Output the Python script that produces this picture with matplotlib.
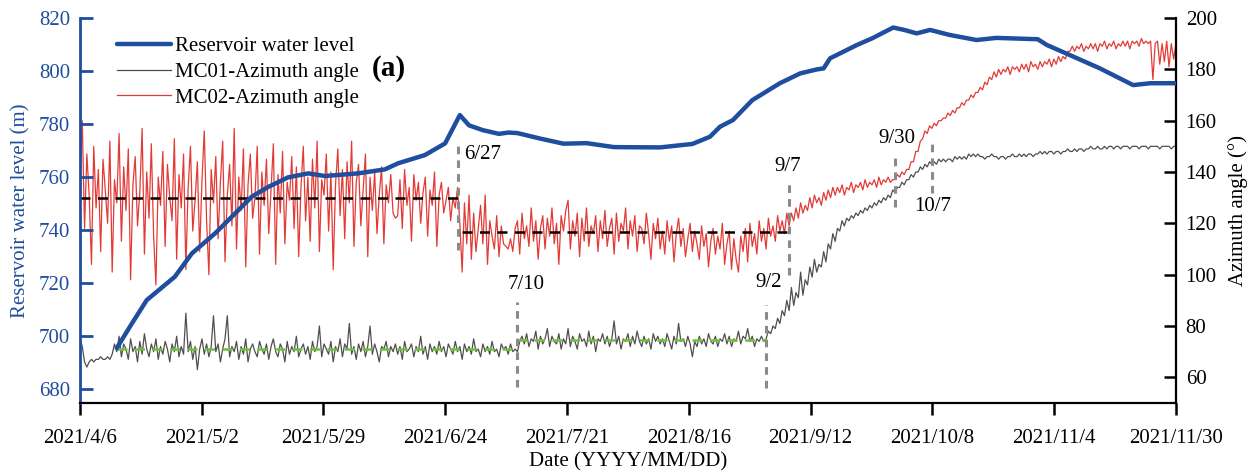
import matplotlib
matplotlib.use("Agg")
import matplotlib.pyplot as plt
import matplotlib.dates as mdates
import numpy as np
from datetime import datetime

plt.rcParams['font.family'] = ['Liberation Serif', 'DejaVu Serif']

# ---------------- data ----------------
start_date = "2021-04-06"
end_date = "2021-11-30"

# Reservoir water level keypoints (day offset from 2021/4/6, level in m)
level_days = [8, 11, 14.5, 20.6, 24.3, 29.3, 33.7, 37.3, 40.9, 45.2, 49.6, 53.2, 60.4,
              66.2, 69.1, 74.9, 79.3, 82.5, 84.5, 87.5, 91, 93, 95, 100, 105, 110, 116,
              126, 133, 136.8, 139, 141.8, 146, 152, 156.4, 160, 161.5, 162.9, 168.7,
              172, 176.6, 179, 181.7, 184.6, 188.9, 194.7, 199, 208, 210, 215, 221.5,
              228.7, 232.4, 238]
level_vals = [695.5, 704, 713.6, 722.4, 731.2, 738.7, 746.3, 752.6, 756.3, 759.9, 761.4,
              760.4, 761.4, 762.9, 765.2, 768.3, 772.7, 783.4, 779.5, 777.7, 776.3, 776.8,
              776.6, 774.5, 772.6, 772.8, 771.3, 771.2, 772.5, 775.2, 779, 781.5, 789,
              795.4, 799.1, 800.6, 801, 804.8, 809.8, 812.3, 816.4, 815.5, 814.2, 815.5,
              813.6, 811.7, 812.5, 812, 809.8, 806, 801, 794.7, 795.4, 795.4]

# sampling step of the azimuth records (days)
step_days = 0.5

# MC01 azimuth angle, every half day from 2021/4/6 (deg)
mc01 = [75, 72, 66, 64, 66, 67, 66, 67, 67, 68, 67, 67, 68, 67, 69, 73,
        70, 76, 68, 73, 71, 67, 75, 70, 72, 66, 74, 69, 77, 71, 68, 73, 70, 75, 67, 72,
        69, 74, 71, 66, 73, 70, 76, 68, 72, 69, 85, 70, 74, 67, 72, 63, 71, 75, 69, 73,
        68, 72, 84, 70, 73, 66, 71, 75, 84, 68, 72, 70, 74, 67, 72, 69, 75, 66, 71, 73,
        70, 68, 74, 71, 69, 73, 67, 72, 75, 70, 68, 73, 71, 66, 74, 69, 72, 70, 76, 68,
        71, 73, 69, 72, 67, 74, 70, 72, 80, 68, 73, 71, 69, 74, 66, 72, 70, 75, 68, 73,
        71, 81, 69, 72, 67, 73, 70, 74, 68, 72, 80, 69, 73, 70, 66, 72, 71, 74, 68, 72,
        70, 73, 69, 72, 67, 74, 70, 71, 73, 68, 72, 70, 76, 69, 72, 67, 73, 70, 72, 69,
        74, 70, 72, 68, 73, 71, 69, 74, 70, 72, 67, 73, 70, 72, 69, 75, 70, 71, 68, 73,
        70, 72, 69, 74, 70, 71, 68, 73, 71, 72, 69, 73, 70, 71,
        70, 74, 76, 73, 77, 72, 75, 74, 78, 71, 76, 73, 75, 79, 72, 76, 74, 73, 77, 71,
        75, 73, 79, 72, 76, 74, 71, 77, 74, 75, 72, 78, 73, 76, 70, 75, 74, 77, 73, 76,
        72, 75, 82, 73, 76, 71, 75, 74, 77, 72, 76, 73, 78, 74, 72, 76, 73, 75, 71, 77,
        74, 76, 73, 75, 72, 77, 74, 71, 76, 73, 81, 74, 75, 72, 76, 73, 68, 74, 72, 76,
        73, 75, 72, 77, 74, 73, 76, 72, 75, 74, 77, 73, 76, 72, 75, 74, 78, 73, 76, 75,
        79, 74, 76, 72, 75, 74, 76, 74,
        75, 78, 77, 80, 79, 83, 81, 86, 84, 90, 86, 95, 88, 93, 91, 101, 92, 98, 96, 103,
        99, 106, 101, 104, 103, 109, 105, 112, 110, 116, 113, 118, 117, 121, 119, 122, 121, 123, 122, 124,
        123, 125, 124, 126, 125, 127, 126, 128, 127, 129, 128, 130, 129, 131, 130, 133, 132, 134, 134, 136,
        135, 137, 137, 139, 138, 140, 140, 142, 141, 143, 142, 144, 143, 144, 143, 145, 144, 145, 144, 145,
        145, 144, 146, 145, 146, 145, 146, 145, 147, 146, 147, 146, 147, 146, 146, 145, 146, 146, 147, 146,
        146, 145, 146, 146, 145, 146, 146, 147, 146, 146, 147, 146, 147, 146, 147, 147, 146, 147, 147, 148,
        147, 148, 147, 148, 148, 147, 148, 148, 147, 148, 148, 149, 148, 148, 149, 148, 149, 149, 148, 149,
        149, 150, 149, 149, 150, 149, 149, 150, 149, 150, 150, 149, 150, 150, 149, 150, 150, 150, 149, 150,
        150, 150, 149, 150, 150, 150, 149, 150, 150, 150, 150, 149, 150, 150, 150, 150, 149, 150, 150]

# MC02 azimuth angle, every half day from 2021/4/6 (deg)
mc02 = [138, 160, 118, 147, 131, 104, 150, 126, 141, 109, 145, 133, 120, 152, 101, 137, 128, 155, 113, 142,
        125, 149, 98, 135, 146, 119, 132, 157, 108, 140, 122, 151, 115, 96, 138, 127, 148, 111, 143, 130,
        121, 153, 106, 139, 126, 147, 102, 134, 150, 117, 129, 144, 109, 137, 156, 121, 100, 141, 128, 146,
        114, 136, 152, 105, 131, 143, 119, 157, 110, 138, 125, 149, 103, 135, 147, 122, 130, 150, 108, 140,
        127, 145, 116, 133, 151, 104, 139, 124, 148, 112, 136, 129, 146, 118, 142, 107, 134, 150, 121, 138,
        113, 145, 126, 152, 109, 137, 131, 147, 117, 140, 102, 135, 149, 123, 141, 114, 144, 128, 152, 111,
        136, 143, 119, 133, 147, 107, 138, 125, 140, 116, 131, 142, 112, 135, 128, 139, 124, 122, 123, 137,
        118, 141, 127, 134, 113, 139, 129, 136, 120, 132, 138, 115, 133, 127, 140, 111, 131, 136, 124, 129,
        134, 121, 130, 126,
        134, 120, 101, 128, 112, 131, 106, 124, 109, 118, 127, 112, 131, 104, 121, 115, 110, 123, 107, 119,
        112, 111, 110, 114, 109, 118, 121, 108, 124, 114, 119, 111, 126, 113, 121, 106, 118, 123, 110, 122,
        115, 126, 112, 120, 104, 123, 117, 125, 129, 110, 121, 115, 124, 107, 122, 113, 126, 111, 119, 116,
        123, 109, 121, 114, 125, 111, 118, 122, 108, 124, 113, 120, 117, 126, 110, 121, 115, 123, 109, 119,
        118, 112, 124, 116, 106, 120, 114, 122, 110, 117, 108, 121, 113, 119, 105, 116, 122, 111, 118, 107,
        114, 120, 109, 117, 112, 106, 119, 111, 116, 103, 113, 118, 108, 115, 110, 120, 104, 112, 117, 102,
        114, 106, 101, 115, 109, 118, 105, 120, 111, 116, 108, 121, 113, 118, 110, 122, 115, 119, 113, 123,
        117, 121, 116, 124,
        119, 124, 121, 126, 122, 128, 124, 127, 125, 130, 126, 131, 128, 130, 127, 132, 129, 133, 130, 134,
        131, 134, 132, 135, 131, 134, 133, 136, 132, 135, 134, 136, 133, 137, 134, 136, 135, 137, 134, 138,
        135, 137, 136, 138, 136, 137, 137, 139, 138, 140, 139, 141, 141, 144, 144, 148, 148, 152, 153, 156,
        155, 158, 157, 159, 158, 160, 160, 161, 161, 163, 162, 164, 163, 165, 165, 167, 166, 168, 168, 170,
        169, 171, 171, 173, 172, 175, 174, 177, 176, 179, 177, 180, 178, 180, 179, 181, 178, 181, 180, 181,
        179, 182, 180, 182, 179, 183, 181, 182, 180, 183, 181, 183, 182, 184, 181, 184, 182, 185, 183, 185,
        184, 187, 187, 189, 187, 189, 188, 190, 187, 189, 188, 190, 188, 190, 187, 190, 189, 191, 188, 190,
        189, 191, 188, 190, 189, 191, 189, 191, 188, 191, 190, 191, 189, 192, 190, 191, 190, 191, 176, 190,
        191, 182, 190, 183, 191, 181, 190, 184, 190]

# mean levels (start day, end day, value)
mc02_means = [(0, 82, 130.0), (83, 154, 116.5)]
mc01_means = [(8, 95, 71.0), (95, 149, 74.5)]

tick_labels = ['2021/4/6', '2021/5/2', '2021/5/29', '2021/6/24', '2021/7/21',
               '2021/8/16', '2021/9/12', '2021/10/8', '2021/11/4', '2021/11/30']

# event markers: label, day offset, line y-range (deg), text position (day, deg, ha)
events = [("6/27", 82, 109.6, 152.5, 83.4, 146.7, 'left'),
          ("7/10", 95, 56.3, 89.5, 96.9, 96.0, 'center'),
          ("9/2", 149, 56.0, 88.3, 149.6, 96.9, 'center'),
          ("9/7", 154, 100.0, 135.8, 153.8, 142.0, 'center'),
          ("9/30", 177, 126.4, 146.7, 177.4, 152.9, 'center'),
          ("10/7", 185, 131.9, 152.5, 185.2, 126.5, 'center')]

# ---------------- plot ----------------
BLUE = '#1f4e9f'
RED = '#e23b36'
GRAY = '#4f4f4f'
GREEN = '#72bf3c'

x0 = mdates.date2num(datetime.strptime(start_date, "%Y-%m-%d"))
x1 = mdates.date2num(datetime.strptime(end_date, "%Y-%m-%d"))

fig = plt.figure(figsize=(12.59, 4.75), dpi=100)
ax1 = fig.add_axes([0.0635, 0.1516, 0.8705, 0.8105])
ax2 = ax1.twinx()

l_mc01, = ax2.plot(x0 + np.arange(len(mc01)) * step_days, mc01, color=GRAY, lw=0.9)
l_mc02, = ax2.plot(x0 + np.arange(len(mc02)) * step_days, mc02, color=RED, lw=0.9)

for s, e, v in mc02_means:
    ax2.plot([x0 + s, x0 + e], [v, v], color='black', lw=1.8, ls=(0, (4, 3)))
for s, e, v in mc01_means:
    ax2.plot([x0 + s, x0 + e], [v, v], color=GREEN, lw=1.8, ls=(0, (4, 3)))

for lab, d, ylo, yhi, tx, ty, ha in events:
    ax2.plot([x0 + d, x0 + d], [ylo, yhi], color='#8a8a8a', lw=2.2, ls=(0, (2.5, 2)))
    ax2.text(x0 + tx, ty, lab, fontsize=15, ha=ha, va='center', color='black')

l_level, = ax1.plot(x0 + np.array(level_days), level_vals, color=BLUE, lw=3.2,
                    solid_capstyle='round')
ax1.set_zorder(ax2.get_zorder() + 1)
ax1.patch.set_visible(False)

ax1.set_xlim(x0, x1)
ax1.set_ylim(674.8, 820)
ax2.set_ylim(50, 200)

ax1.set_xticks(np.linspace(x0, x1, len(tick_labels)))
ax1.set_xticklabels(tick_labels)
ax1.set_yticks(np.arange(680, 821, 20))
ax2.set_yticks(np.arange(60, 201, 20))

for ax in (ax1, ax2):
    ax.spines['top'].set_visible(False)
ax1.spines['right'].set_visible(False)
ax2.spines['left'].set_visible(False)
ax2.spines['bottom'].set_visible(False)
ax1.spines['left'].set_color(BLUE)
ax1.spines['left'].set_linewidth(2.0)
ax1.spines['bottom'].set_linewidth(1.6)
ax2.spines['right'].set_linewidth(1.6)

ax1.tick_params(axis='y', direction='in', length=9, width=2, colors=BLUE,
                labelsize=15, pad=7)
ax1.tick_params(axis='x', direction='out', length=8.5, width=1.8, labelsize=15, pad=10)
ax2.tick_params(axis='y', direction='in', length=8.5, width=1.8, labelsize=15, pad=7)

ax1.set_ylabel('Reservoir water level (m)', fontsize=15, color=BLUE, labelpad=6)
ax2.set_ylabel('Azimuth angle (°)', fontsize=15, color='black', labelpad=8)
ax1.set_xlabel('Date (YYYY/MM/DD)', fontsize=15, labelpad=3)

ax1.legend([l_level, l_mc01, l_mc02],
           ['Reservoir water level', 'MC01-Azimuth angle', 'MC02-Azimuth angle'],
           loc='upper left', bbox_to_anchor=(0.034, 0.952), frameon=False,
           fontsize=15, handlelength=2.6, handletextpad=0.15, labelspacing=0.3,
           borderpad=0, borderaxespad=0)

ax1.text(0.266, 0.870, '(a)', transform=ax1.transAxes, fontsize=21,
         fontweight='bold', ha='left', va='center')

fig.savefig('out.png', dpi=100)
